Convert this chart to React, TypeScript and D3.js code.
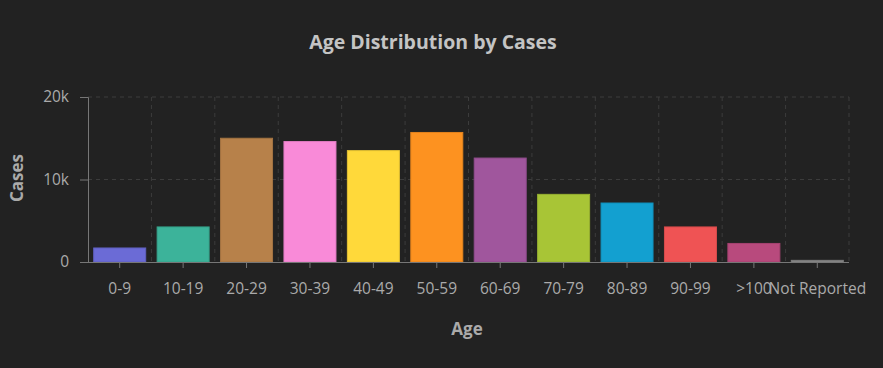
import { useEffect, useRef } from 'react';
import * as d3 from 'd3';

const categories = ['0-9', '10-19', '20-29', '30-39', '40-49', '50-59', '60-69', '70-79', '80-89', '90-99', '>100', 'Not Reported'];
const cases = [1700, 4250, 15000, 14600, 13500, 15700, 12600, 8200, 7150, 4250, 2250, 200];
const colors = ['#6b6bd6', '#3cb39a', '#b7814a', '#f98ad8', '#ffd93a', '#fd9220', '#a0569d', '#a8c536', '#13a0d0', '#ef5354', '#b84a7d', '#8a8a8a'];
const yTicks = [0, 10000, 20000];

const W = 883;
const H = 368;
const margin = { top: 97, right: 34, bottom: 106, left: 88 };

export default function App() {
  const svgRef = useRef<SVGSVGElement>(null);

  useEffect(() => {
    const svg = d3.select(svgRef.current);
    svg.selectAll('*').remove();

    const x = d3
      .scaleBand()
      .domain(categories)
      .range([margin.left, W - margin.right])
      .paddingInner(0.18)
      .paddingOuter(0.09);
    const y = d3.scaleLinear().domain([0, 20000]).range([H - margin.bottom, margin.top]);

    const font = '"Open Sans", Lato, sans-serif';
    const step = x.step();
    const x0 = margin.left;

    // grid
    const grid = svg.append('g').attr('stroke', '#3c3c3c').attr('stroke-dasharray', '4,4');
    grid
      .selectAll('line.h')
      .data(yTicks.filter((d) => d > 0))
      .enter()
      .append('line')
      .attr('x1', x0)
      .attr('x2', W - margin.right)
      .attr('y1', (d) => y(d))
      .attr('y2', (d) => y(d));
    grid
      .selectAll('line.v')
      .data(categories.map((_, i) => i + 1))
      .enter()
      .append('line')
      .attr('x1', (i) => x0 + i * step)
      .attr('x2', (i) => x0 + i * step)
      .attr('y1', y(20000))
      .attr('y2', y(0));

    // bars
    svg
      .append('g')
      .selectAll('rect')
      .data(categories)
      .enter()
      .append('rect')
      .attr('x', (d) => x(d)!)
      .attr('width', x.bandwidth())
      .attr('y', (_, i) => y(cases[i]))
      .attr('height', (_, i) => y(0) - y(cases[i]))
      .attr('fill', (_, i) => colors[i])
      .attr('stroke', (_, i) => d3.color(colors[i])!.darker(0.3).toString())
      .attr('stroke-width', 1);

    // y axis
    const yAxis = svg
      .append('g')
      .attr('transform', `translate(${x0},0)`)
      .call(d3.axisLeft(y).tickValues(yTicks).tickFormat((d) => (+d === 0 ? '0' : `${+d / 1000}k`)).tickSize(8).tickPadding(11));
    yAxis.select('.domain').attr('stroke', '#777');
    yAxis.selectAll('.tick line').attr('stroke', '#777');
    yAxis.selectAll('.tick text').attr('fill', '#aaa').style('font', `15.5px ${font}`);

    // x axis
    const xAxis = svg
      .append('g')
      .attr('transform', `translate(0,${y(0)})`)
      .call(d3.axisBottom(x).tickSizeOuter(0).tickSize(6).tickPadding(15));
    xAxis.select('.domain').attr('stroke', '#777').attr('d', `M${x0},0.5H${W - margin.right}`);
    xAxis.selectAll('.tick line').attr('stroke', '#777');
    xAxis.selectAll('.tick text').attr('fill', '#aaa').style('font', `15.5px ${font}`);

    // titles
    svg
      .append('text')
      .attr('x', 433)
      .attr('y', 49)
      .attr('text-anchor', 'middle')
      .attr('fill', '#c4c4c4')
      .style('font', `bold 19.5px ${font}`)
      .text('Age Distribution by Cases');
    svg
      .append('text')
      .attr('x', 467)
      .attr('y', 335)
      .attr('text-anchor', 'middle')
      .attr('fill', '#aaa')
      .style('font', `bold 17px ${font}`)
      .text('Age');
    svg
      .append('text')
      .attr('transform', 'translate(23,178) rotate(-90)')
      .attr('text-anchor', 'middle')
      .attr('fill', '#aaa')
      .style('font', `bold 17px ${font}`)
      .text('Cases');
  }, []);

  return (
    <div style={{ position: 'fixed', left: 0, top: 0, width: W, height: H, background: '#222222' }}>
      <svg ref={svgRef} width={W} height={H} />
    </div>
  );
}
